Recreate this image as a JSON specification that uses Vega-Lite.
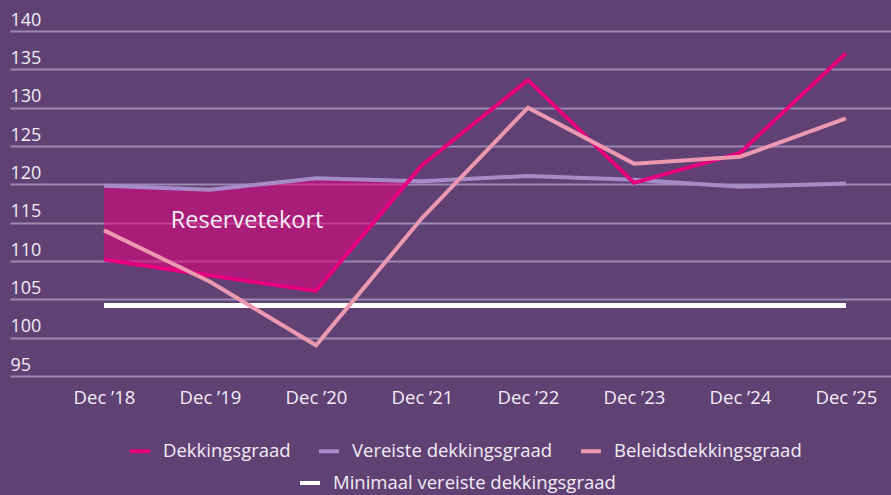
{
  "$schema": "https://vega.github.io/schema/vega-lite/v6.json",
  "width": 881,
  "height": 345,
  "autosize": {"type": "none"},
  "padding": {"left": 10, "top": 31, "right": 0, "bottom": 119},
  "background": "#604174",
  "config": {
    "view": {"stroke": null},
    "font": "Open Sans",
    "axis": {"labelFont": "Open Sans", "labelColor": "#f3edf6", "labelFontSize": 18, "domain": false, "ticks": false, "title": null, "labelOverlap": false},
    "legend": {
      "labelFont": "Open Sans", "labelFontSize": 18.5, "labelColor": "#f3edf6", "labelLimit": 0,
      "symbolType": "stroke", "symbolStrokeWidth": 4, "symbolSize": 400,
      "labelOffset": 11, "columnPadding": 20, "padding": 0, "title": null,
      "direction": "horizontal", "orient": "none"
    }
  },
  "datasets": {
    "reeks": [
      {"jaar": 2018, "serie": "Dekkingsgraad", "waarde": 110.2},
      {"jaar": 2019, "serie": "Dekkingsgraad", "waarde": 108.1},
      {"jaar": 2020, "serie": "Dekkingsgraad", "waarde": 106.1},
      {"jaar": 2021, "serie": "Dekkingsgraad", "waarde": 122.5},
      {"jaar": 2022, "serie": "Dekkingsgraad", "waarde": 133.6},
      {"jaar": 2023, "serie": "Dekkingsgraad", "waarde": 120.2},
      {"jaar": 2024, "serie": "Dekkingsgraad", "waarde": 124.1},
      {"jaar": 2025, "serie": "Dekkingsgraad", "waarde": 137.1},
      {"jaar": 2018, "serie": "Vereiste dekkingsgraad", "waarde": 119.8},
      {"jaar": 2019, "serie": "Vereiste dekkingsgraad", "waarde": 119.3},
      {"jaar": 2020, "serie": "Vereiste dekkingsgraad", "waarde": 120.8},
      {"jaar": 2021, "serie": "Vereiste dekkingsgraad", "waarde": 120.4},
      {"jaar": 2022, "serie": "Vereiste dekkingsgraad", "waarde": 121.1},
      {"jaar": 2023, "serie": "Vereiste dekkingsgraad", "waarde": 120.6},
      {"jaar": 2024, "serie": "Vereiste dekkingsgraad", "waarde": 119.7},
      {"jaar": 2025, "serie": "Vereiste dekkingsgraad", "waarde": 120.1},
      {"jaar": 2018, "serie": "Beleidsdekkingsgraad", "waarde": 114.0},
      {"jaar": 2019, "serie": "Beleidsdekkingsgraad", "waarde": 107.3},
      {"jaar": 2020, "serie": "Beleidsdekkingsgraad", "waarde": 99.0},
      {"jaar": 2021, "serie": "Beleidsdekkingsgraad", "waarde": 115.6},
      {"jaar": 2022, "serie": "Beleidsdekkingsgraad", "waarde": 130.0},
      {"jaar": 2023, "serie": "Beleidsdekkingsgraad", "waarde": 122.7},
      {"jaar": 2024, "serie": "Beleidsdekkingsgraad", "waarde": 123.6},
      {"jaar": 2025, "serie": "Beleidsdekkingsgraad", "waarde": 128.6}
    ],
    "tekort": [
      {"jaar": 2018, "laag": 110.2, "hoog": 119.8},
      {"jaar": 2019, "laag": 108.1, "hoog": 119.3},
      {"jaar": 2020, "laag": 106.1, "hoog": 120.8},
      {"jaar": 2020.86, "laag": 120.5, "hoog": 120.5}
    ],
    "minimaal": [
      {"jaar": 2018, "serie": "Minimaal vereiste dekkingsgraad", "waarde": 104.2},
      {"jaar": 2025, "serie": "Minimaal vereiste dekkingsgraad", "waarde": 104.2}
    ],
    "label": [
      {"jaar": 2019.35, "waarde": 115.2, "tekst": "Reservetekort"}
    ]
  },
  "encoding": {
    "x": {
      "field": "jaar", "type": "quantitative",
      "scale": {"domain": [2017.113, 2025.425], "nice": false, "zero": false},
      "axis": {"values": [2018, 2019, 2020, 2021, 2022, 2023, 2024, 2025], "tickCount": 20, "grid": false, "labelPadding": 12, "labelFontSize": 18.5,
               "labelExpr": "'Dec \u2019' + substring(toString(datum.value), 2, 4)"}
    }
  },
  "layer": [
    {
      "data": {"name": "tekort"},
      "mark": {"type": "area", "color": "#e5007d", "opacity": 0.55},
      "encoding": {
        "y": {"field": "laag", "type": "quantitative",
              "scale": {"domain": [95, 140], "nice": false, "zero": false},
              "axis": {"values": [95, 100, 105, 110, 115, 120, 125, 130, 135, 140], "tickCount": 20, "grid": true,
                       "gridColor": "#9c88b0", "gridWidth": 2, "gridOpacity": 1,
                       "labelAlign": "left", "labelPadding": 0, "tickSize": 0,
                       "labelBaseline": "alphabetic", "labelOffset": -6}},
        "y2": {"field": "hoog"}
      }
    },
    {
      "data": {"name": "minimaal"},
      "mark": {"type": "line", "strokeWidth": 5, "strokeCap": "butt"},
      "encoding": {
        "y": {"field": "waarde", "type": "quantitative"},
        "color": {"field": "serie", "type": "nominal",
                  "scale": {"domain": ["Minimaal vereiste dekkingsgraad"], "range": ["#ffffff"]},
                  "legend": {"legendX": 288, "legendY": 440}}
      }
    },
    {
      "data": {"name": "reeks"},
      "encoding": {
        "y": {"field": "waarde", "type": "quantitative"},
        "color": {"field": "serie", "type": "nominal",
                  "scale": {"domain": ["Dekkingsgraad", "Vereiste dekkingsgraad", "Beleidsdekkingsgraad"],
                            "range": ["#e6007e", "#a68cc6", "#ec98ae"]},
                  "legend": {"legendX": 118, "legendY": 408}}
      },
      "layer": [
        {"transform": [{"filter": "datum.serie === 'Vereiste dekkingsgraad'"}],
         "mark": {"type": "line", "strokeWidth": 4}},
        {"transform": [{"filter": "datum.serie === 'Dekkingsgraad'"}],
         "mark": {"type": "line", "strokeWidth": 4}},
        {"transform": [{"filter": "datum.serie === 'Beleidsdekkingsgraad'"}],
         "mark": {"type": "line", "strokeWidth": 4}}
      ]
    },
    {
      "data": {"name": "label"},
      "mark": {"type": "text", "font": "Open Sans", "fontSize": 23.5, "color": "#f6eef6", "align": "center", "baseline": "middle"},
      "encoding": {
        "y": {"field": "waarde", "type": "quantitative"},
        "text": {"field": "tekst"}
      }
    }
  ],
  "resolve": {"scale": {"color": "independent"}}
}
